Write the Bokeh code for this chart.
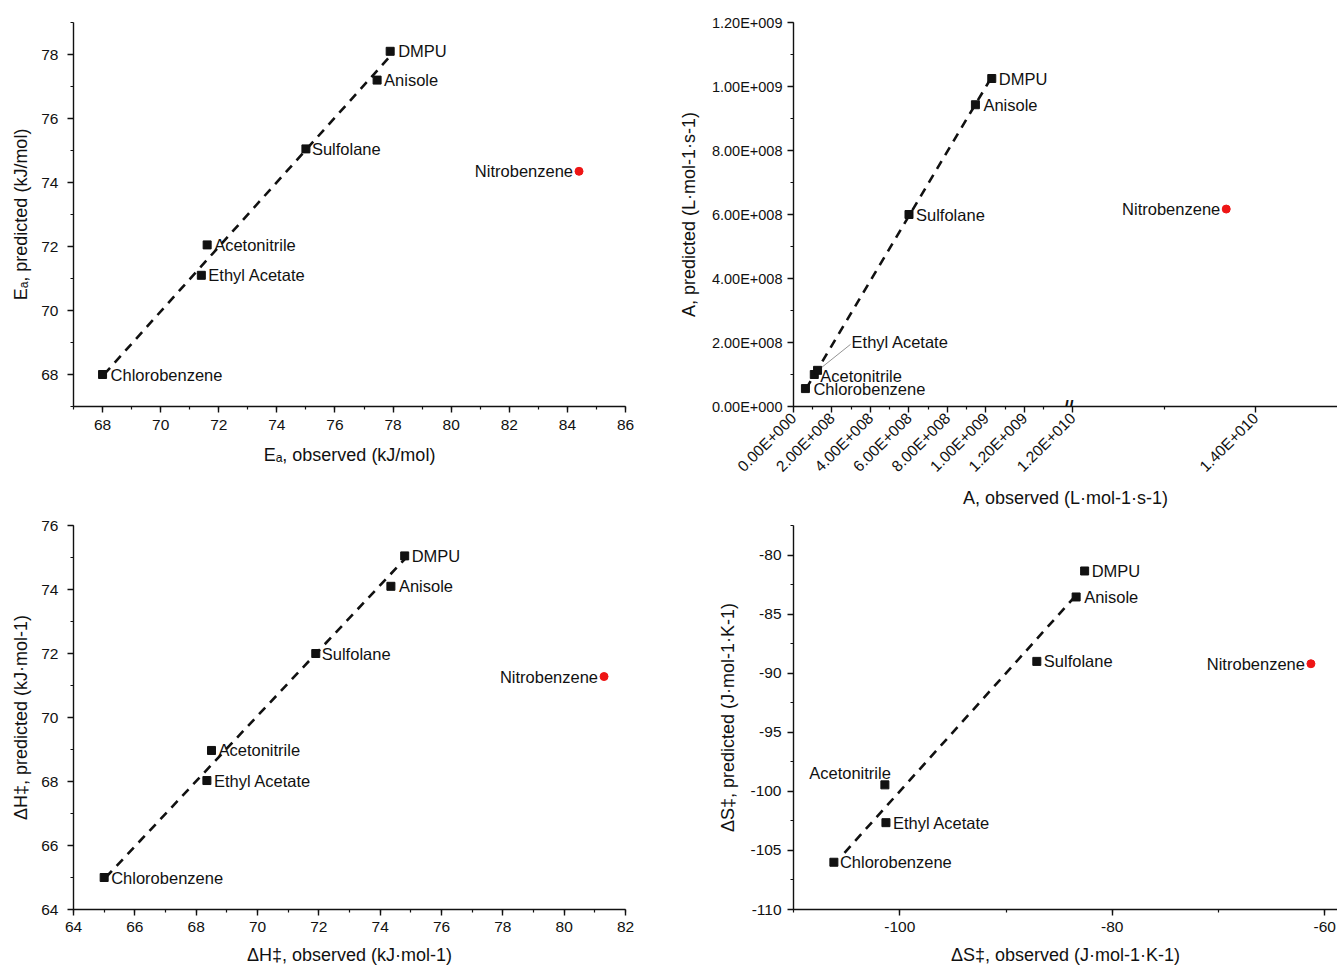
import math
from bokeh.plotting import figure
from bokeh.layouts import column, row
from bokeh.models import Range1d, SingleIntervalTicker, FixedTicker, CustomJSTickFormatter, Label
from bokeh.core.properties import value
from bokeh.embed import file_html
from bokeh.resources import INLINE

# ------------------------------------------------------------------ data
solvents = ["DMPU", "Anisole", "Sulfolane", "Acetonitrile", "Ethyl Acetate", "Chlorobenzene"]
outlier = ["Nitrobenzene"]

# Ea (kJ/mol)
ea_obs = [77.9, 77.45, 75.0, 71.6, 71.4, 68.0]
ea_pred = [78.1, 77.2, 75.05, 72.05, 71.1, 68.0]
ea_out_obs = [84.4]
ea_out_pred = [74.35]
ea_fit_x = [68.05, 77.95]
ea_fit_y = [68.0, 78.0]

# A (L·mol-1·s-1)
a_obs = [1.03e9, 0.945e9, 0.60e9, 0.108e9, 0.125e9, 0.062e9]
a_pred = [1.025e9, 0.943e9, 0.60e9, 0.100e9, 0.113e9, 0.056e9]
a_out_obs = [1.368e10]
a_out_pred = [0.617e9]
a_fit_x = [0.065e9, 1.03e9]
a_fit_y = [0.055e9, 1.03e9]
a_x_ticks = [0.0, 2e8, 4e8, 6e8, 8e8, 1.0e9, 1.2e9, 1.2e10, 1.4e10]
a_x_tick_labels = ["0.00E+000", "2.00E+008", "4.00E+008", "6.00E+008", "8.00E+008",
                   "1.00E+009", "1.20E+009", "1.20E+010", "1.40E+010"]
a_x_minor = [1e8, 3e8, 5e8, 7e8, 9e8, 1.1e9, 1.3e9, 1.3e10]

# dH‡ (kJ·mol-1)
dh_obs = [74.8, 74.35, 71.9, 68.5, 68.35, 65.0]
dh_pred = [75.05, 74.1, 72.0, 68.97, 68.03, 65.0]
dh_out_obs = [81.3]
dh_out_pred = [71.28]
dh_fit_x = [65.05, 74.85]
dh_fit_y = [65.0, 75.0]

# dS‡ (J·mol-1·K-1)
ds_obs = [-82.6, -83.4, -87.1, -101.4, -101.3, -106.2]
ds_pred = [-81.35, -83.55, -89.0, -99.45, -102.65, -106.0]
ds_out_obs = [-61.3]
ds_out_pred = [-89.2]
ds_fit_x = [-105.2, -83.6]
ds_fit_y = [-105.2, -83.6]

# ------------------------------------------------------------------ styling
FONT = "Liberation Sans"
INK = "#111111"
RED = "#ee1515"
TICK_FS = "15.5px"
AXLAB_FS = "18px"
LAB_FS = "16.5px"

# broken x axis of the A panel: two linear segments
SEG1_PER_1E9 = 200.0
SEG2_ORIGIN = 1.2e10
SEG2_AT = 290.0
SEG2_PER_1E9 = 95.0
BREAK_VALUE = 1.43e9


def brk(v):
    if v <= BREAK_VALUE:
        return v / 1e9 * SEG1_PER_1E9
    return SEG2_AT + (v - SEG2_ORIGIN) / 1e9 * SEG2_PER_1E9


plain_fmt = CustomJSTickFormatter(code="return tick.toFixed(0);")


def make_fig(width, height, bl, br, bt, bb, xr, yr, xlabel, ylabel):
    p = figure(width=width, height=height, x_range=Range1d(*xr), y_range=Range1d(*yr),
               output_backend="svg", toolbar_location=None,
               min_border_left=bl, min_border_right=br, min_border_top=bt, min_border_bottom=bb)
    p.grid.visible = False
    p.outline_line_color = None
    for ax in (p.xaxis[0], p.yaxis[0]):
        ax.axis_line_color = INK
        ax.axis_line_width = 1.4
        ax.major_tick_line_color = INK
        ax.major_tick_line_width = 1.4
        ax.major_tick_out = 6
        ax.major_tick_in = 0
        ax.minor_tick_line_color = INK
        ax.minor_tick_line_width = 1.2
        ax.minor_tick_out = 3
        ax.minor_tick_in = 0
        ax.major_label_text_font = FONT
        ax.major_label_text_font_size = TICK_FS
        ax.major_label_text_color = INK
        ax.axis_label_text_font = FONT
        ax.axis_label_text_font_size = AXLAB_FS
        ax.axis_label_text_font_style = "normal"
        ax.axis_label_text_color = INK
    p.xaxis[0].axis_label = xlabel
    p.yaxis[0].axis_label = ylabel
    p.xaxis[0].major_label_standoff = 7
    p.yaxis[0].major_label_standoff = 9
    p.xaxis[0].axis_label_standoff = 12
    p.yaxis[0].axis_label_standoff = 7
    return p


def add_series(p, xs, ys, ox, oy, fx, fy, offsets, out_offset):
    p.line(fx, fy, line_color=INK, line_width=2.6, line_dash="9 7")
    p.scatter(xs, ys, marker="square", size=8, color=INK)
    p.scatter(ox, oy, marker="circle", size=8, color=RED)
    for name, x, y in zip(solvents, xs, ys):
        dx, dy, align = offsets.get(name, (7, 0, "left"))
        p.text(x=[x], y=[y], text=[name], x_offset=dx, y_offset=dy,
               text_align=align, text_baseline="middle",
               text_font=value(FONT), text_font_size=LAB_FS, text_color=INK)
    dx, dy, align = out_offset
    for name, x, y in zip(outlier, ox, oy):
        p.text(x=[x], y=[y], text=[name], x_offset=dx, y_offset=dy,
               text_align=align, text_baseline="middle",
               text_font=value(FONT), text_font_size=LAB_FS, text_color=INK)


TOP_H, BOT_H = 512, 457
LEFT_W, RIGHT_W = 673, 664
L_BL, L_BR = 73, 48
R_BL = 120

# ---------------- panel 1: Ea
p1 = make_fig(LEFT_W, TOP_H, L_BL, L_BR, 22, 106, (67, 86), (67, 79),
              "Eₐ, observed (kJ/mol)", "Eₐ, predicted (kJ/mol)")
p1.xaxis[0].ticker = SingleIntervalTicker(interval=2, num_minor_ticks=2)
p1.yaxis[0].ticker = SingleIntervalTicker(interval=2, num_minor_ticks=2)
add_series(p1, ea_obs, ea_pred, ea_out_obs, ea_out_pred, ea_fit_x, ea_fit_y,
           {"DMPU": (8, 0, "left"), "Anisole": (7, 0, "left"), "Sulfolane": (6, 0, "left"),
            "Acetonitrile": (7, 0, "left"), "Ethyl Acetate": (7, 0, "left"),
            "Chlorobenzene": (8, 0, "left")},
           (-6, 0, "right"))

# ---------------- panel 2: A (broken x axis)
A_X_END = 565.2
p2 = make_fig(RIGHT_W, TOP_H, R_BL, 0, 22, 106, (0, A_X_END), (0, 1.2e9),
              "A, observed (L·mol-1·s-1)", "A, predicted (L·mol-1·s-1)")
tick_pos = [int(round(brk(t))) for t in a_x_ticks]
p2.xaxis[0].ticker = FixedTicker(ticks=tick_pos, minor_ticks=[int(round(brk(t))) for t in a_x_minor])
p2.xaxis[0].major_label_overrides = {k: lab for k, lab in zip(tick_pos, a_x_tick_labels)}
p2.xaxis[0].major_label_orientation = math.pi / 4
p2.xaxis[0].major_label_standoff = 3
p2.xaxis[0].axis_label_standoff = 4
p2.yaxis[0].ticker = SingleIntervalTicker(interval=2e8, num_minor_ticks=2)
p2.yaxis[0].formatter = CustomJSTickFormatter(code="""
    if (Math.abs(tick) < 1) { return "0.00E+000"; }
    const e = Math.floor(Math.log10(Math.abs(tick)) + 1e-9);
    const m = tick / Math.pow(10, e);
    return m.toFixed(2) + "E+" + String(e).padStart(3, "0");
""")
p2.yaxis[0].major_label_text_font_size = "14.5px"
p2.yaxis[0].major_label_standoff = 5
p2.yaxis[0].axis_label_standoff = 10
a_xs = [brk(v) for v in a_obs]
a_oxs = [brk(v) for v in a_out_obs]
a_fxs = [brk(v) for v in a_fit_x]
# leader line for the Ethyl Acetate label
px_x = 544.0 / A_X_END          # pixels per x unit
px_y = 384.0 / 1.2e9            # pixels per y unit
ea_i = solvents.index("Ethyl Acetate")
p2.line([a_xs[ea_i] + 3 / px_x, a_xs[ea_i] + 33 / px_x],
        [a_pred[ea_i] + 2 / px_y, a_pred[ea_i] + 26 / px_y],
        line_color="#777777", line_width=0.8)
add_series(p2, a_xs, a_pred, a_oxs, a_out_pred, a_fxs, a_fit_y,
           {"DMPU": (7, 0, "left"), "Anisole": (8, 0, "left"), "Sulfolane": (7, 0, "left"),
            "Acetonitrile": (6, 1, "left"), "Ethyl Acetate": (34, -28, "left"),
            "Chlorobenzene": (8, 0, "left")},
           (-6, 0, "right"))
p2.add_layout(Label(x=brk(BREAK_VALUE), y=0, text="//", text_align="center",
                    text_baseline="middle", text_font=FONT, text_font_size="17px",
                    text_font_style="bold", text_color=INK, background_fill_color=None))

# ---------------- panel 3: dH
p3 = make_fig(LEFT_W, BOT_H, L_BL, L_BR, 13, 60, (64, 82), (64, 76),
              "ΔH‡, observed (kJ·mol-1)", "ΔH‡, predicted (kJ·mol-1)")
p3.xaxis[0].ticker = SingleIntervalTicker(interval=2, num_minor_ticks=2)
p3.yaxis[0].ticker = SingleIntervalTicker(interval=2, num_minor_ticks=2)
p3.xaxis[0].major_label_standoff = 6
p3.xaxis[0].axis_label_standoff = 10
add_series(p3, dh_obs, dh_pred, dh_out_obs, dh_out_pred, dh_fit_x, dh_fit_y,
           {"DMPU": (7, 0, "left"), "Anisole": (8, 0, "left"), "Sulfolane": (6, 0, "left"),
            "Acetonitrile": (7, 0, "left"), "Ethyl Acetate": (7, 0, "left"),
            "Chlorobenzene": (7, 0, "left")},
           (-6, 0, "right"))

# ---------------- panel 4: dS
p4 = make_fig(RIGHT_W, BOT_H, R_BL, 0, 13, 60, (-110, -58.8), (-110, -77.5),
              "ΔS‡, observed (J·mol-1·K-1)", "ΔS‡, predicted (J·mol-1·K-1)")
p4.xaxis[0].ticker = SingleIntervalTicker(interval=20, num_minor_ticks=2)
p4.yaxis[0].ticker = SingleIntervalTicker(interval=5, num_minor_ticks=2)
p4.xaxis[0].formatter = plain_fmt
p4.yaxis[0].formatter = plain_fmt
p4.xaxis[0].major_label_standoff = 6
p4.xaxis[0].axis_label_standoff = 10
p4.yaxis[0].major_label_standoff = 6
p4.yaxis[0].axis_label_standoff = 9
add_series(p4, ds_obs, ds_pred, ds_out_obs, ds_out_pred, ds_fit_x, ds_fit_y,
           {"DMPU": (7, 0, "left"), "Anisole": (8, 0, "left"), "Sulfolane": (7, 0, "left"),
            "Acetonitrile": (6, -12, "right"), "Ethyl Acetate": (7, 0, "left"),
            "Chlorobenzene": (6, 0, "left")},
           (-6, 0, "right"))

layout = column(row(p1, p2), row(p3, p4))
open("out.html", "w").write(file_html(layout, INLINE))
